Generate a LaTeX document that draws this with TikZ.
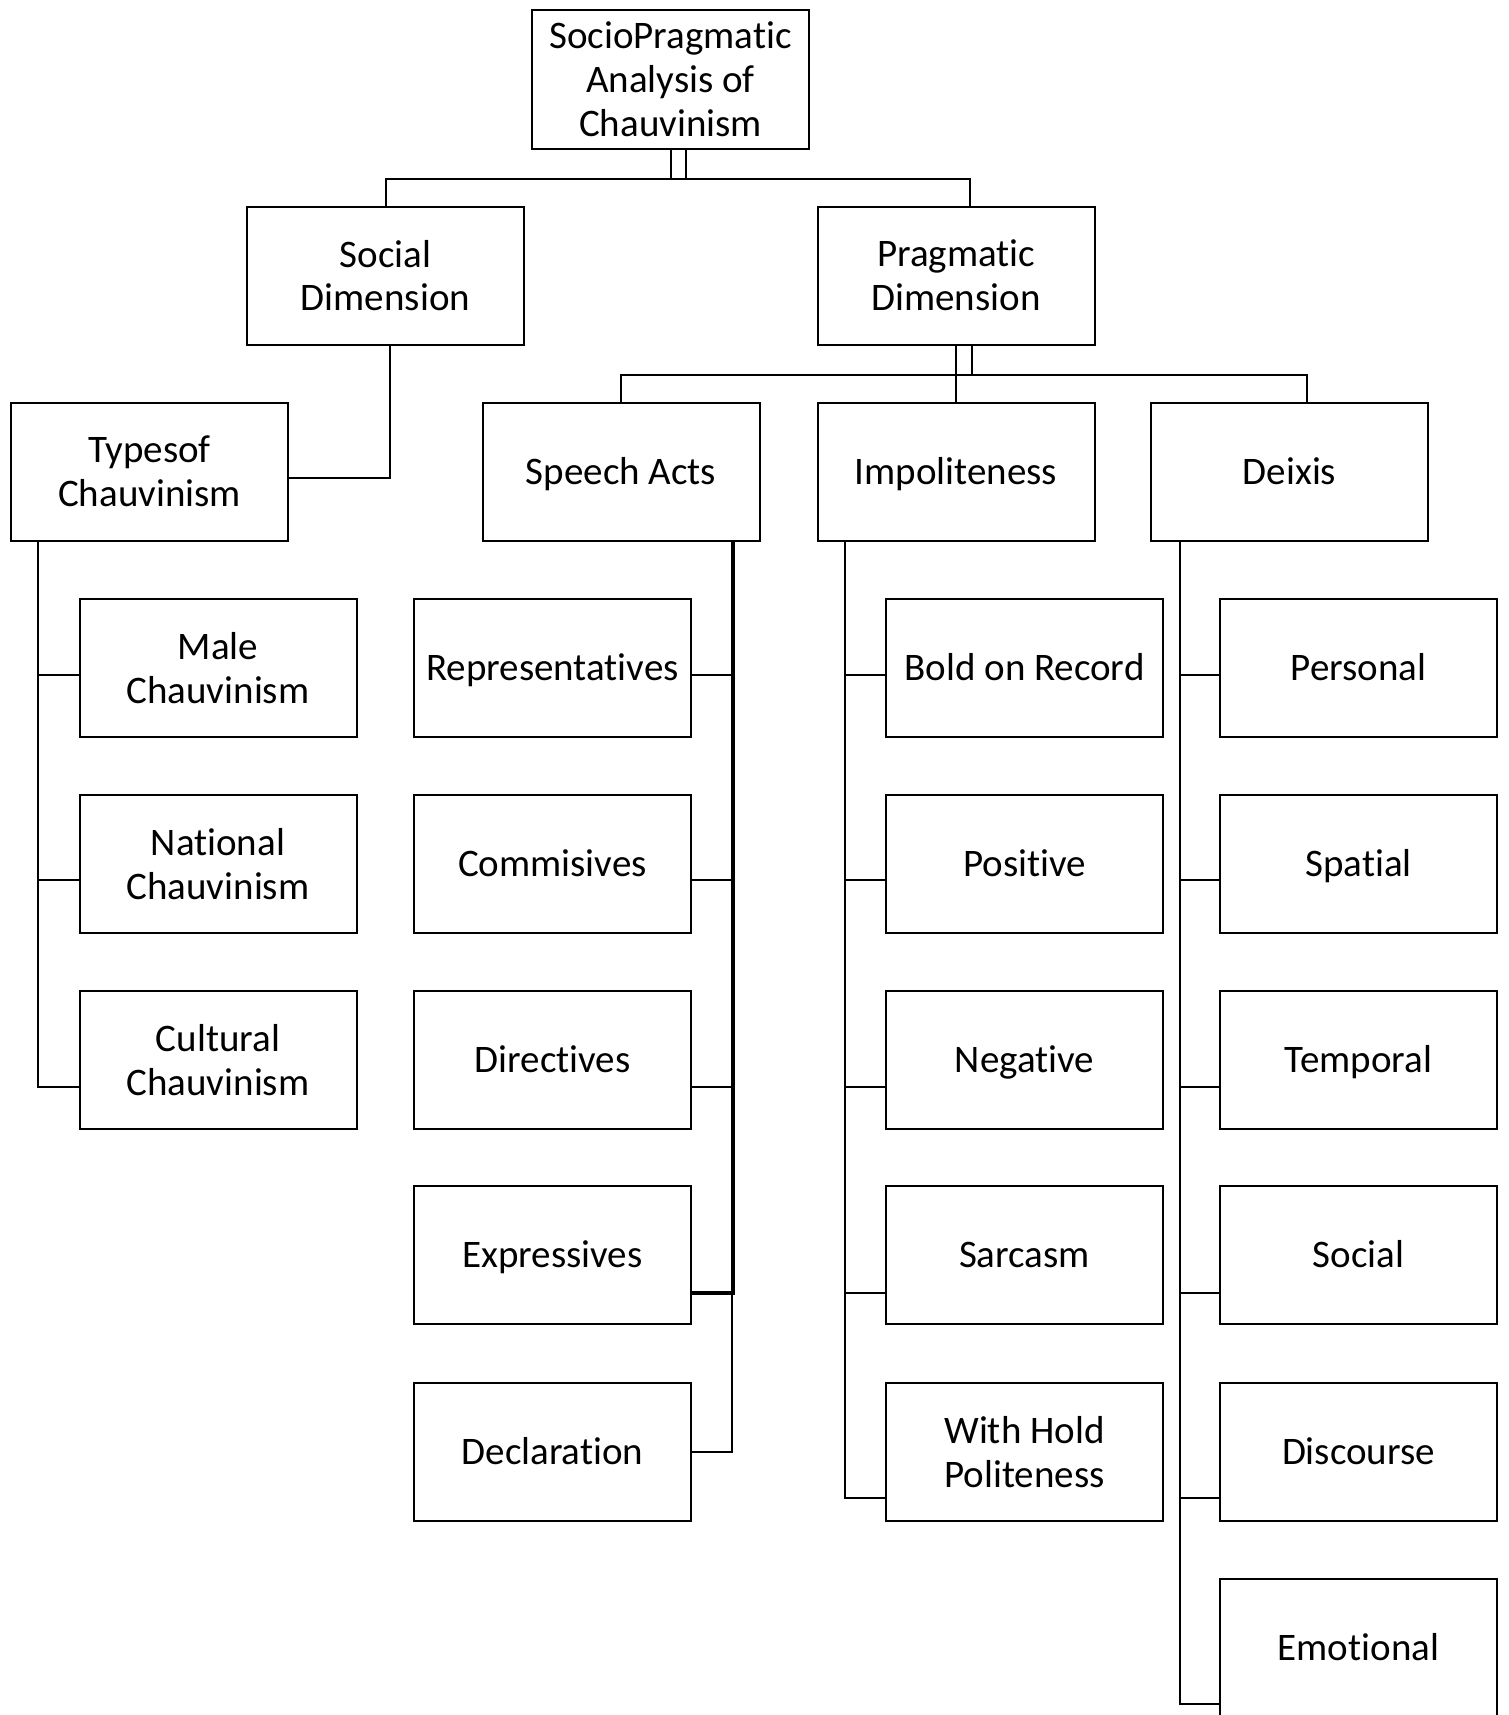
\documentclass[tikz,border=0pt]{standalone}
\usepackage{fontspec}
\setmainfont{Carlito}[Ligatures=NoCommon]
\begin{document}
\begin{tikzpicture}[x=0.5pt,y=-0.5pt,
  box/.style={draw, line width=1pt, minimum width=138.5pt, minimum height=69pt,
    align=center, inner sep=2pt, font=\fontsize{19.5}{21.9}\selectfont},
  one/.style={box, text height=12.5pt, text depth=0pt},
  conn/.style={line width=1pt}]
\clip (0,0) rectangle (1509,1715);
% top
\node[box, minimum height=69.5pt] (root) at (670.5,79.5) {SocioPragmatic\\Analysis of\\Chauvinism};
\node[box] (social) at (385.5,275.5) {Social\\Dimension};
\node[box] (pragm) at (956,275.5) {Pragmatic\\Dimension};
\node[box] (types) at (149.5,471.5) {Typesof\\Chauvinism};
\node[one] (speech) at (621,471.5) {Speech Acts};
\node[one] (impol) at (956,471.5) {Impoliteness};
\node[one] (deixis) at (1289.5,471.5) {Deixis};
% types children
\node[box] (t1) at (218,668) {Male\\Chauvinism};
\node[box] (t2) at (218,864) {National\\Chauvinism};
\node[box] (t3) at (218,1060) {Cultural\\Chauvinism};
% speech acts children
\node[one] (s1) at (552.5,668) {Representatives};
\node[one] (s2) at (552.5,864) {Commisives};
\node[one] (s3) at (552.5,1060) {Directives};
\node[one] (s4) at (552.5,1255) {Expressives};
\node[one] (s5) at (552.5,1452) {Declaration};
% impoliteness children
\node[one] (i1) at (1024.5,668) {Bold on Record};
\node[one] (i2) at (1024.5,864) {Positive};
\node[one] (i3) at (1024.5,1060) {Negative};
\node[one] (i4) at (1024.5,1255) {Sarcasm};
\node[box] (i5) at (1024.5,1452) {With Hold\\Politeness};
% deixis children
\node[one] (d1) at (1358.5,668) {Personal};
\node[one] (d2) at (1358.5,864) {Spatial};
\node[one] (d3) at (1358.5,1060) {Temporal};
\node[one] (d4) at (1358.5,1255) {Social};
\node[one] (d5) at (1358.5,1452) {Discourse};
\node[one] (d6) at (1358.5,1648) {Emotional};

% root -> level 1
\coordinate (rr) at ([xshift=7.5pt]root.south);
\draw[conn] (root.south) -- (root.south |- 0,179);
\draw[conn] (rr) -- (rr |- 0,179);
\draw[conn] (social.north) -- (social.north |- 0,179) -- (970,179) -- (pragm.north -| 970,0);

% social -> types
\draw[conn] (social.south -| 390,0) -- (390,478) -- (types.east |- 0,478);

% pragmatic -> level 2
\coordinate (pr) at ([xshift=8pt]pragm.south);
\draw[conn] (pragm.south) -- (pragm.south |- 0,375);
\draw[conn] (pr) -- (pr |- 0,375);
\draw[conn] (speech.north) -- (speech.north |- 0,375) -- (1307,375) -- (deixis.north -| 1307,0);
\draw[conn] (impol.north) -- (impol.north |- 0,375);

% types children
\draw[conn] (types.south -| 38,0) -- (38,1087) -- (t3.west |- 0,1087);
\draw[conn] (38,675) -- (t1.west |- 0,675);
\draw[conn] (38,880) -- (t2.west |- 0,880);

% speech children
\draw[conn] (speech.south -| 732,0) -- (732,1452) -- (s5.east |- 0,1452);
\draw[line width=2pt] (speech.south -| 733,0) -- (733,1293) -- (s4.east |- 0,1293);
\draw[conn] (732,675) -- (s1.east |- 0,675);
\draw[conn] (732,880) -- (s2.east |- 0,880);
\draw[conn] (732,1087) -- (s3.east |- 0,1087);

% impoliteness children
\draw[conn] (impol.south -| 845,0) -- (845,1498) -- (i5.west |- 0,1498);
\draw[conn] (845,675) -- (i1.west |- 0,675);
\draw[conn] (845,880) -- (i2.west |- 0,880);
\draw[conn] (845,1087) -- (i3.west |- 0,1087);
\draw[conn] (845,1293) -- (i4.west |- 0,1293);

% deixis children
\draw[conn] (deixis.south -| 1180,0) -- (1180,1704) -- (d6.west |- 0,1704);
\draw[conn] (1180,675) -- (d1.west |- 0,675);
\draw[conn] (1180,880) -- (d2.west |- 0,880);
\draw[conn] (1180,1087) -- (d3.west |- 0,1087);
\draw[conn] (1180,1293) -- (d4.west |- 0,1293);
\draw[conn] (1180,1498) -- (d5.west |- 0,1498);
\end{tikzpicture}
\end{document}
